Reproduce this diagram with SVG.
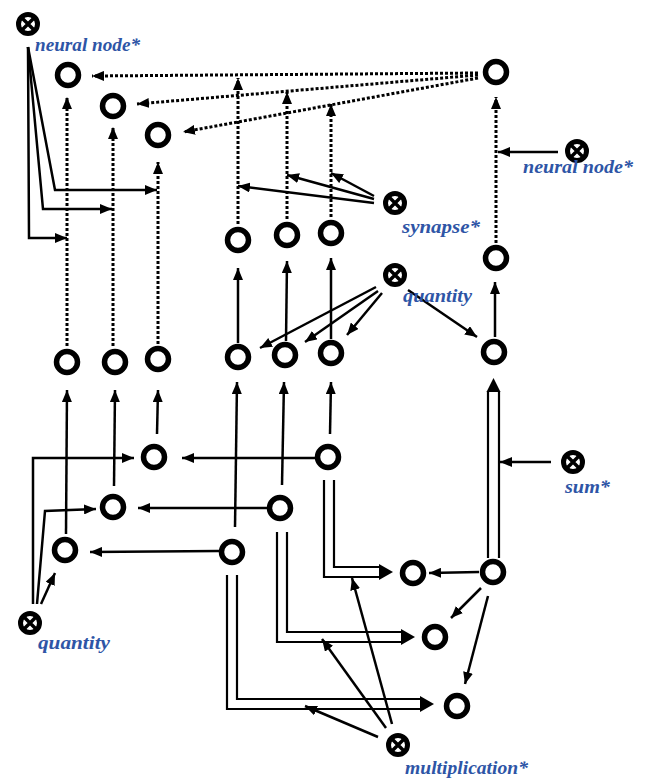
<svg xmlns="http://www.w3.org/2000/svg" width="649" height="780" viewBox="0 0 649 780">
<defs>
<marker id="ah" markerUnits="userSpaceOnUse" markerWidth="13" markerHeight="10" refX="12" refY="5" orient="auto"><path d="M0,0 L12,5 L0,10 z" fill="#000"/></marker>
<g id="op"><circle r="9.5" fill="#fff" stroke="#000" stroke-width="5"/><path d="M-6,-6 L6,6 M6,-6 L-6,6" stroke="#000" stroke-width="3.5"/></g>
</defs>
<style>
.n{fill:#fff;stroke:#000;stroke-width:5.5}
.a{fill:none;stroke:#000;stroke-width:2.5;marker-end:url(#ah)}
.d{fill:none;stroke:#000;stroke-width:3;stroke-dasharray:3 2;marker-end:url(#ah)}
.h{fill:none;stroke:#000;stroke-width:2.2}
.t{font-family:"Liberation Serif",serif;font-style:italic;font-weight:bold;font-size:18px;fill:#2e55a6}
</style>
<rect width="649" height="780" fill="#fff"/>
<g id="connectors">
<path class="d" d="M478,73 L92,76"/>
<path class="d" d="M478,75 L137,104"/>
<path class="d" d="M478,78 L183,132"/>
<path class="d" d="M238,224 L238,78"/>
<path class="d" d="M287,219 L287,92"/>
<path class="d" d="M331,217 L331,104"/>
<path class="d" d="M496,243 L496,97"/>
<path class="d" d="M67,346 L67,97"/>
<path class="d" d="M113,346 L113,127"/>
<path class="d" d="M158,344 L158,162"/>
<path class="a" d="M28,47 L55,190 L157,190"/>
<path class="a" d="M28,47 L43,209 L112,209"/>
<path class="a" d="M28,47 L29,238 L67,238"/>
<path class="a" d="M558,152 L498,152"/>
<path class="a" d="M374,203 L238,186"/>
<path class="a" d="M374,199 L287,175"/>
<path class="a" d="M374,196 L331,173"/>
<path class="a" d="M238,343 L238,268"/>
<path class="a" d="M286,341 L287,261"/>
<path class="a" d="M331,339 L331,258"/>
<path class="a" d="M495,337 L495,282"/>
<path class="a" d="M376,287 L260,348"/>
<path class="a" d="M378,291 L305,342"/>
<path class="a" d="M382,293 L347,335"/>
<path class="a" d="M408,290 L477,337"/>
<path class="a" d="M235,527 L237,382"/>
<path class="a" d="M282,485 L284,382"/>
<path class="a" d="M330,434 L331,382"/>
<path class="a" d="M316,458 L182,458"/>
<path class="a" d="M268,508 L138,508"/>
<path class="a" d="M219,551 L90,552"/>
<path class="a" d="M66,534 L67,390"/>
<path class="a" d="M114,486 L115,390"/>
<path class="a" d="M157,434 L158,390"/>
<path class="a" d="M33,604 L33,458 L134,458"/>
<path class="a" d="M37,604 L45,511 L96,509"/>
<path class="a" d="M41,604 L55,573"/>
<path class="h" d="M324,480 L324,577 L380,577 M334,480 L334,567 L380,567"/>
<path d="M379,564 L393,572 L379,580 z" fill="#000"/>
<path class="h" d="M277,532 L277,642 L402,642 M287,532 L287,632 L402,632"/>
<path d="M401,629 L415,637 L401,645 z" fill="#000"/>
<path class="h" d="M227,575 L227,709 L421,709 M237,575 L237,699 L421,699"/>
<path d="M420,696 L434,704 L420,712 z" fill="#000"/>
<path class="h" d="M488,558 L488,391 M499,558 L499,391"/>
<path d="M486.5,392 L493.5,378 L500.5,392 z" fill="#000"/>
<path class="a" d="M551,462 L500,462"/>
<path class="a" d="M479,572 L429,573"/>
<path class="a" d="M481,588 L451,618"/>
<path class="a" d="M488,596 L465,684"/>
<path class="a" d="M378,737 L305,706"/>
<path class="a" d="M386,728 L322,639"/>
<path class="a" d="M392,724 L352,578"/>
</g>
<g id="op-neural-left"><use href="#op" x="28" y="24"/><text class="t" x="35" y="51" textLength="105" lengthAdjust="spacingAndGlyphs">neural node*</text></g>
<g id="op-neural-right"><use href="#op" x="577" y="151"/><text class="t" x="523" y="173" textLength="110" lengthAdjust="spacingAndGlyphs">neural node*</text></g>
<g id="op-synapse"><use href="#op" x="395" y="203"/><text class="t" x="402" y="233" textLength="78" lengthAdjust="spacingAndGlyphs">synapse*</text></g>
<g id="op-quantity-mid"><use href="#op" x="395" y="275"/><text class="t" x="403" y="302" textLength="69" lengthAdjust="spacingAndGlyphs">quantity</text></g>
<g id="op-quantity-bl"><use href="#op" x="30" y="623"/><text class="t" x="38" y="649" textLength="72" lengthAdjust="spacingAndGlyphs">quantity</text></g>
<g id="op-sum"><use href="#op" x="573" y="462"/><text class="t" x="565" y="493" textLength="45" lengthAdjust="spacingAndGlyphs">sum*</text></g>
<g id="op-mult"><use href="#op" x="398" y="745"/><text class="t" x="405" y="774" textLength="123" lengthAdjust="spacingAndGlyphs">multiplication*</text></g>
<g id="A1"><circle class="n" cx="68" cy="75" r="10.5"/></g>
<g id="A2"><circle class="n" cx="113" cy="106" r="10.5"/></g>
<g id="A3"><circle class="n" cx="158" cy="135" r="10.5"/></g>
<g id="N"><circle class="n" cx="496" cy="72" r="10.5"/></g>
<g id="B1"><circle class="n" cx="238" cy="240" r="10.5"/></g>
<g id="B2"><circle class="n" cx="287" cy="235" r="10.5"/></g>
<g id="B3"><circle class="n" cx="331" cy="233" r="10.5"/></g>
<g id="C"><circle class="n" cx="496" cy="258" r="10.5"/></g>
<g id="L1"><circle class="n" cx="67" cy="362" r="10.5"/></g>
<g id="L2"><circle class="n" cx="115" cy="362" r="10.5"/></g>
<g id="L3"><circle class="n" cx="158" cy="359" r="10.5"/></g>
<g id="M1"><circle class="n" cx="238" cy="357" r="10.5"/></g>
<g id="M2"><circle class="n" cx="285" cy="355" r="10.5"/></g>
<g id="M3"><circle class="n" cx="331" cy="353" r="10.5"/></g>
<g id="D"><circle class="n" cx="494" cy="352" r="10.5"/></g>
<g id="P3"><circle class="n" cx="154" cy="457" r="10.5"/></g>
<g id="Q2"><circle class="n" cx="113" cy="507" r="10.5"/></g>
<g id="Q1"><circle class="n" cx="65" cy="550" r="10.5"/></g>
<g id="R3"><circle class="n" cx="328" cy="457" r="10.5"/></g>
<g id="R2"><circle class="n" cx="280" cy="508" r="10.5"/></g>
<g id="R1"><circle class="n" cx="232" cy="552" r="10.5"/></g>
<g id="T"><circle class="n" cx="493" cy="572" r="10.5"/></g>
<g id="S1"><circle class="n" cx="413" cy="573" r="10.5"/></g>
<g id="S2"><circle class="n" cx="435" cy="637" r="10.5"/></g>
<g id="S3"><circle class="n" cx="457" cy="706" r="10.5"/></g>
</svg>
